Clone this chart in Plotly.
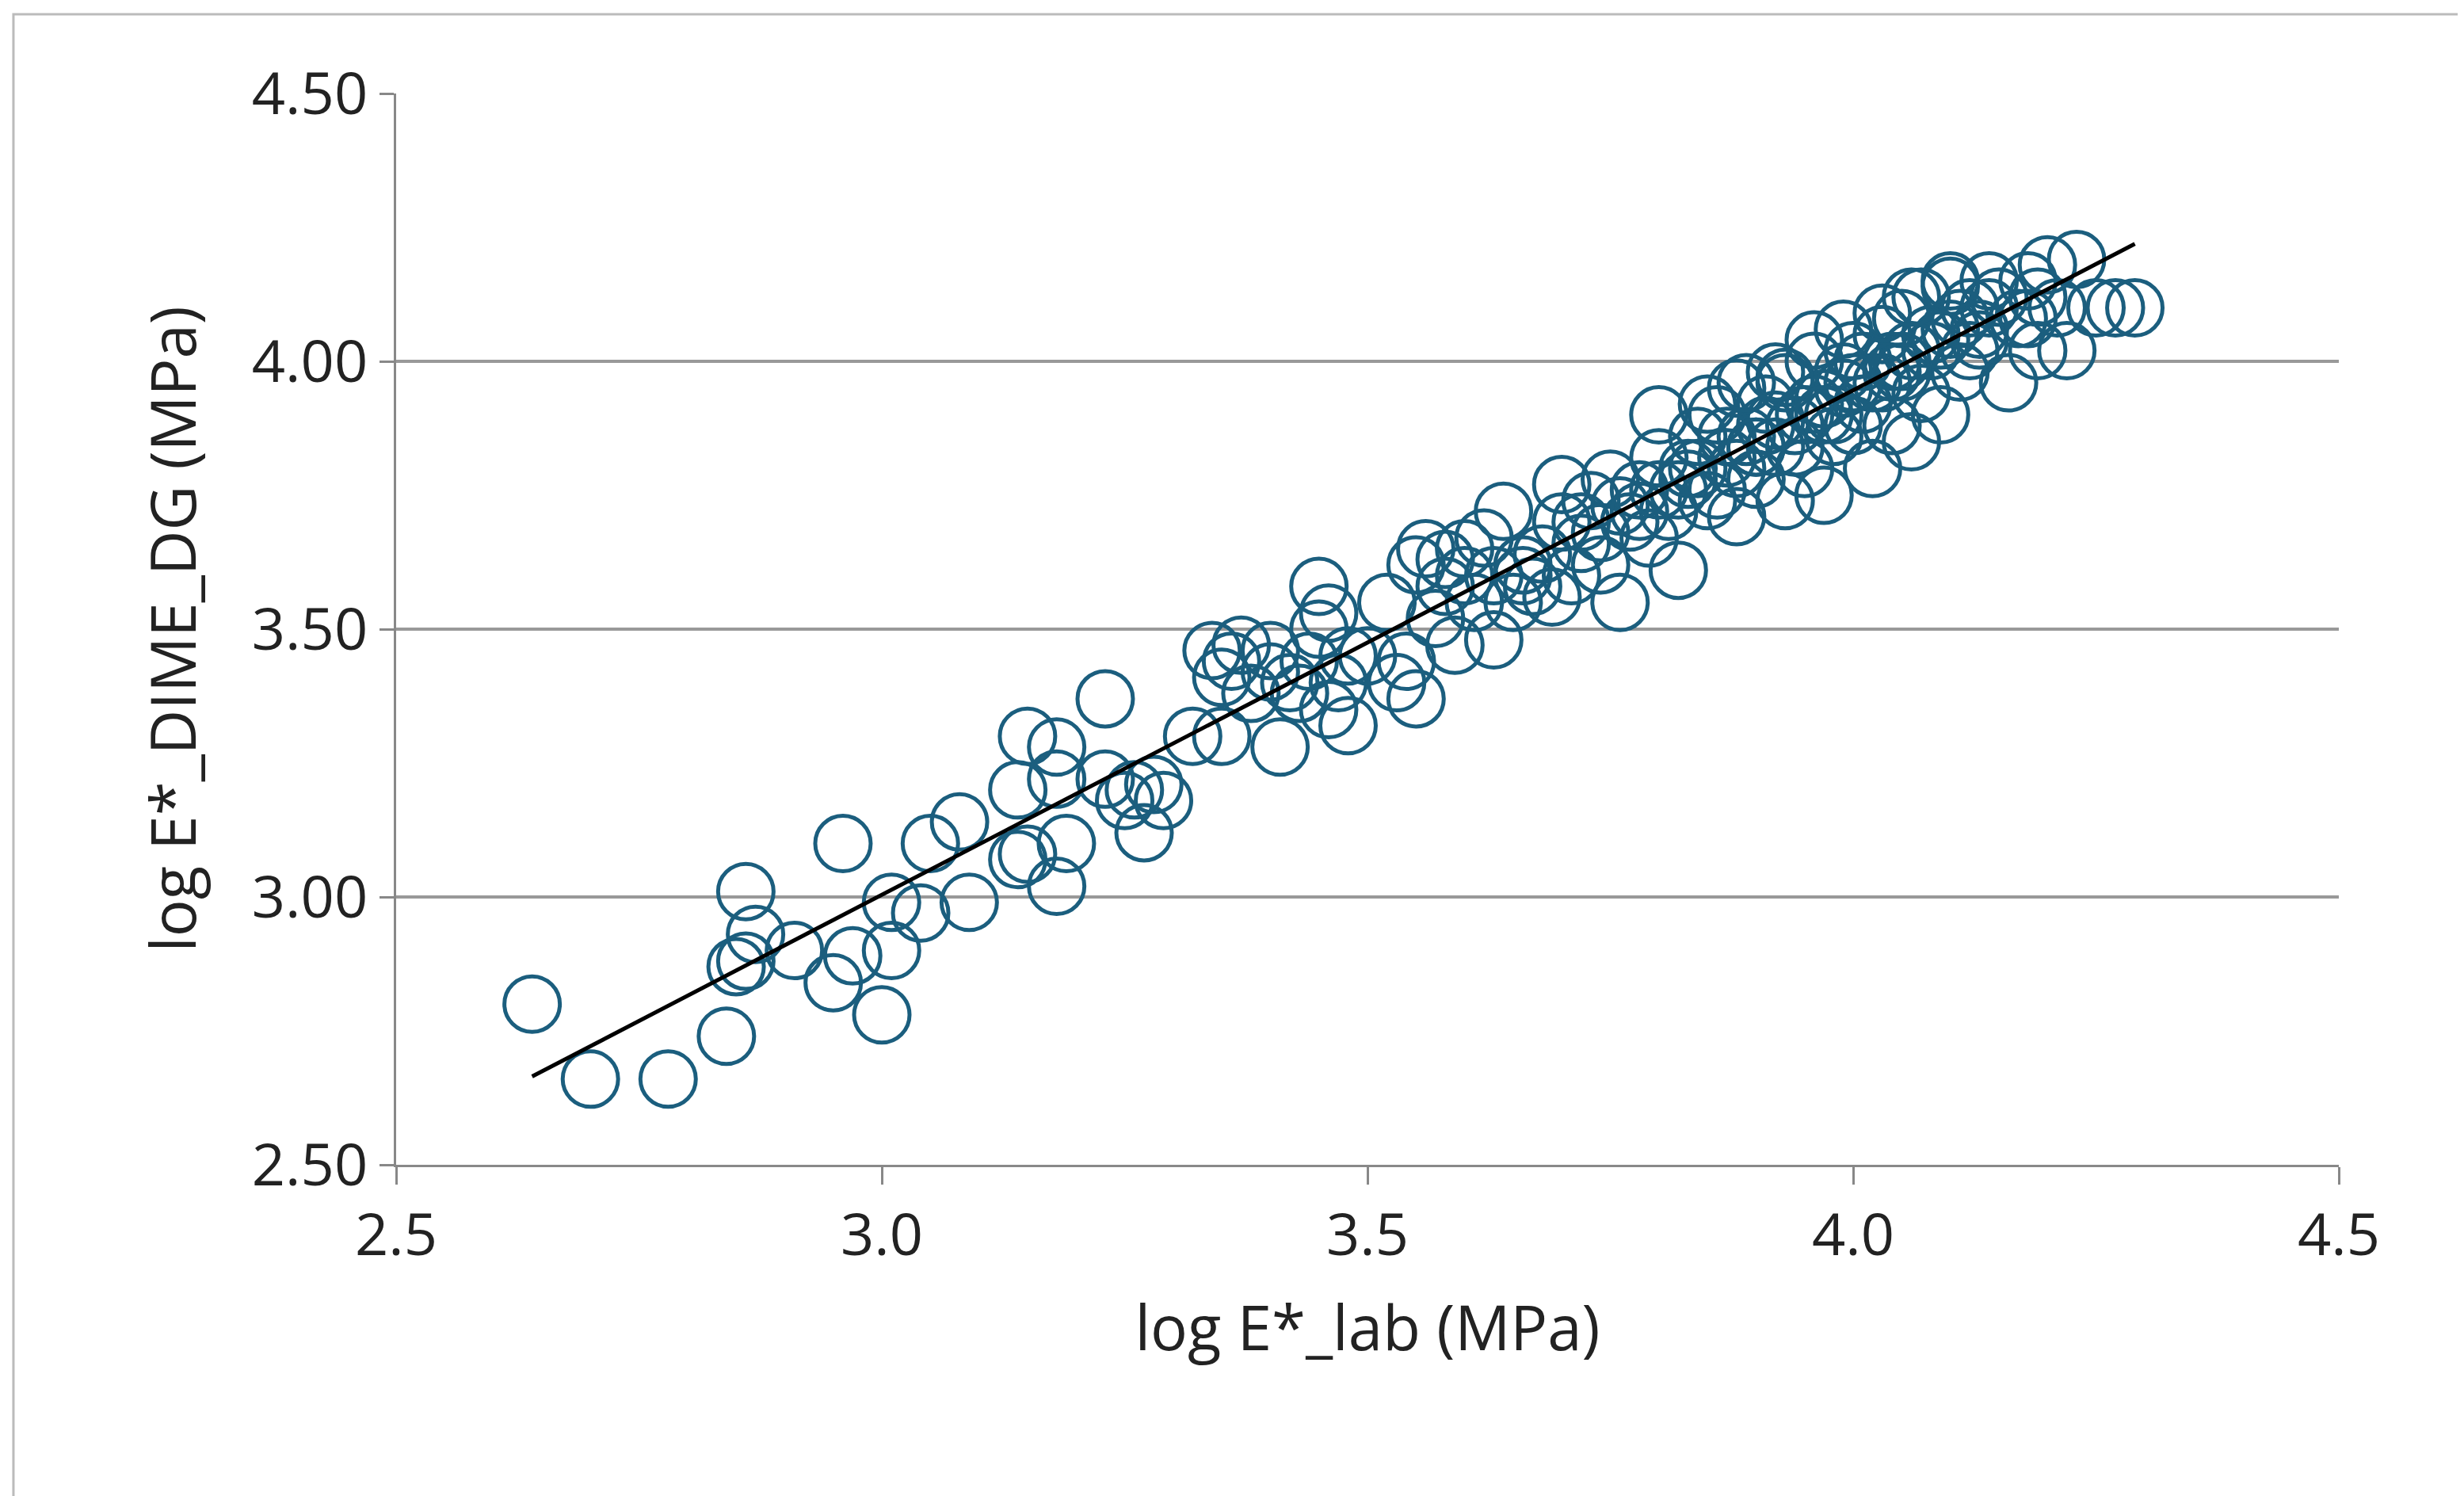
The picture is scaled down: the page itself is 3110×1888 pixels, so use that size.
import plotly.graph_objects as go
import numpy as np

x_lab = [2.64,2.70,2.78,2.84,2.85,2.86,2.87,2.86,2.91,2.95,2.96,2.97,3.00,3.01,3.01,3.04,3.05,3.08,3.09,3.14,3.14,3.15,3.15,3.18,3.18,3.18,3.19,3.23,3.23,3.25,3.26,3.27,3.28,3.29,3.32,3.34,3.35,3.35,3.36,3.37,3.38,3.40,3.40,3.41,3.42,3.43,3.44,3.45,3.45,3.46,3.46,3.47,3.48,3.48,3.50,3.52,3.53,3.54,3.55,3.55,3.56,3.57,3.58,3.59,3.60,3.60,3.61,3.62,3.63,3.63,3.64,3.65,3.66,3.67,3.68,3.69,3.70,3.70,3.71,3.72,3.73,3.74,3.75,3.76,3.77,3.78,3.79,3.80,3.80,3.81,3.82,3.83,3.84,3.85,3.86,3.87,3.88,3.88,3.89,3.90,3.91,3.92,3.93,3.93,3.94,3.95,3.96,3.96,3.97,3.98,3.99,4.00,4.00,4.01,4.02,4.03,4.03,4.04,4.05,4.05,4.06,4.07,4.07,4.08,4.09,4.10,4.10,4.11,4.12,4.13,4.15,4.16,4.17,4.18,4.19,4.20,4.21,4.22,4.23,4.25,4.27,4.29,
         3.58,3.66,3.74,3.78,3.84,3.86,3.90,3.92,3.95,3.97,3.99,4.02,4.04,4.06,4.08,4.11,4.14,3.82,3.88,3.94,3.98,4.00,4.04,3.72,3.76,3.80,3.87,3.91,3.93,4.01,4.09,4.13,
         3.85,3.89,3.92,3.96,3.99,4.03,4.06,4.10,4.14,4.19,3.83,3.90,3.97,4.05,4.12,4.18]
y_dime = [2.80,2.66,2.66,2.74,2.87,3.01,2.93,2.88,2.90,2.84,3.10,2.89,2.78,2.90,2.99,2.97,3.10,3.14,2.99,3.20,3.07,3.08,3.30,3.02,3.22,3.28,3.10,3.22,3.37,3.18,3.20,3.12,3.21,3.18,3.30,3.46,3.41,3.30,3.44,3.47,3.38,3.42,3.46,3.28,3.40,3.38,3.44,3.50,3.58,3.35,3.53,3.40,3.32,3.45,3.45,3.55,3.40,3.44,3.62,3.37,3.65,3.52,3.58,3.47,3.60,3.65,3.55,3.67,3.60,3.48,3.72,3.55,3.62,3.58,3.64,3.56,3.70,3.77,3.60,3.66,3.74,3.62,3.78,3.55,3.70,3.76,3.67,3.82,3.90,3.72,3.61,3.78,3.86,3.74,3.90,3.82,3.95,3.71,3.86,3.78,3.92,3.84,3.97,3.74,3.88,3.80,4.00,3.92,3.75,3.86,3.95,4.02,3.88,3.92,3.80,4.05,3.96,3.88,4.08,4.00,3.85,3.94,4.12,4.02,3.90,4.06,4.14,3.98,4.10,4.04,4.12,3.96,4.08,4.15,4.02,4.18,4.10,4.02,4.19,4.10,4.10,4.10,
          3.63,3.60,3.68,3.72,3.80,3.76,3.84,3.89,3.90,3.93,3.98,3.96,4.00,4.02,4.05,4.08,4.10,3.76,3.80,3.84,3.90,3.96,3.98,3.70,3.73,3.76,3.86,3.88,3.96,4.00,4.04,4.06,
          3.92,3.96,3.98,4.04,4.06,4.09,4.12,4.15,4.15,4.12,3.80,3.84,3.90,3.98,4.02,4.08]

trend_slope = 0.942
trend_intercept = 0.178
trend_x = [min(x_lab), max(x_lab)]

color = "#1B5E7E"
fig = go.Figure()
fig.add_trace(go.Scatter(x=x_lab, y=y_dime, mode="markers",
    marker=dict(symbol="circle-open", size=70, color=color, line=dict(width=5, color=color)),
    showlegend=False))
tx = np.array(trend_x)
fig.add_trace(go.Scatter(x=tx, y=trend_slope*tx+trend_intercept, mode="lines",
    line=dict(color="black", width=5), showlegend=False))

font = dict(family="Open Sans", size=74, color="#222")
fig.update_layout(width=3110, height=1888, plot_bgcolor="white", paper_bgcolor="white",
    margin=dict(l=492, r=166, t=110, b=426), font=font,
    xaxis=dict(range=[2.5, 4.5], dtick=0.5, tickformat=".1f", showgrid=False,
               showline=True, linecolor="#888", linewidth=3, ticks="outside", ticklen=22,
               tickcolor="#888", tickwidth=3,
               title=dict(text="log E*_lab (MPa)", font=dict(size=78), standoff=45)),
    yaxis=dict(range=[2.5, 4.5], dtick=0.5, tickformat=".2f", showgrid=True,
               gridcolor="#999", gridwidth=4, zeroline=False,
               showline=True, linecolor="#888", linewidth=3, ticks="outside", ticklen=18,
               tickcolor="#888", tickwidth=3,
               title=dict(text="log E*_DIME_DG (MPa)", font=dict(size=78), standoff=45)),
    shapes=[dict(type="rect", xref="paper", yref="paper", x0=-0.197, x1=1.062, y0=-0.34, y1=1.074,
                 line=dict(color="#bbb", width=3))])
fig.write_html("out.html")
